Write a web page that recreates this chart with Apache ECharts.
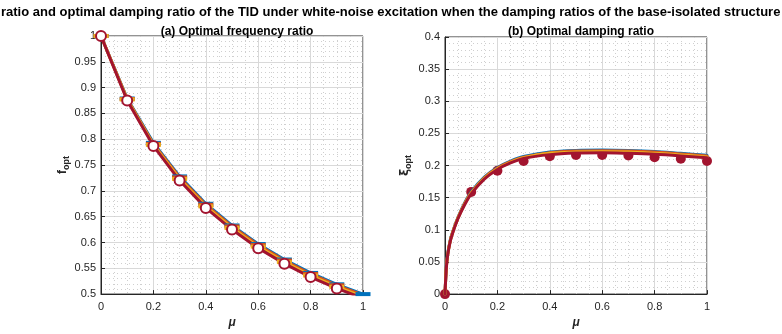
<!DOCTYPE html>
<html>
<head>
<meta charset="utf-8">
<script src="https://cdn.jsdelivr.net/npm/echarts@6/dist/echarts.min.js"></script>
<style>
  html, body { margin: 0; padding: 0; background: #fff; }
</style>
</head>
<body>
<!-- two panels side by side, MATLAB-like look -->
<div id="container" style="width: 782px;height:334px;"></div>
<script>
  // mu values at the markers
  var mu = [0, 0.1, 0.2, 0.3, 0.4, 0.5, 0.6, 0.7, 0.8, 0.9, 1.0];
  // (a) optimal frequency ratio, four damping cases
  var fBlue   = [1, 0.879, 0.793, 0.728, 0.675, 0.633, 0.597, 0.567, 0.541, 0.519, 0.500];
  var fOrange = [1, 0.878, 0.791, 0.726, 0.673, 0.631, 0.595, 0.565, 0.539, 0.517, 0.498];
  var fYellow = [1, 0.877, 0.789, 0.723, 0.670, 0.628, 0.592, 0.562, 0.536, 0.514, 0.495];
  var fRed    = [1, 0.875, 0.787, 0.720, 0.667, 0.625, 0.589, 0.559, 0.533, 0.511, 0.492];

  // (b) optimal damping ratio curves (finer mu grid)
  var muFine   = [0, 0.005, 0.01, 0.02, 0.03, 0.05, 0.075, 0.1, 0.15, 0.2, 0.25, 0.3, 0.4, 0.5, 0.6, 0.7, 0.8, 0.9, 1.0];
  var xiBlue   = [0, 0.042, 0.062, 0.084, 0.098, 0.120, 0.142, 0.159, 0.182, 0.197, 0.207, 0.214, 0.221, 0.2235, 0.224, 0.2235, 0.222, 0.219, 0.216];
  var xiOrange = [0, 0.041, 0.061, 0.083, 0.097, 0.119, 0.141, 0.158, 0.181, 0.196, 0.206, 0.213, 0.220, 0.2225, 0.223, 0.2225, 0.221, 0.218, 0.215];
  var xiYellow = [0, 0.041, 0.060, 0.083, 0.097, 0.119, 0.140, 0.157, 0.180, 0.195, 0.205, 0.212, 0.219, 0.221, 0.2215, 0.221, 0.219, 0.2165, 0.2135];
  var xiRed    = [0, 0.040, 0.060, 0.082, 0.096, 0.118, 0.139, 0.156, 0.179, 0.194, 0.204, 0.211, 0.217, 0.2195, 0.220, 0.219, 0.2175, 0.215, 0.212];
  // red dots (numerical optimum)
  var xiDots   = [0, 0.159, 0.192, 0.207, 0.2146, 0.2166, 0.2166, 0.2156, 0.213, 0.2105, 0.207];

  var colBlue = '#0072BD', colOrange = '#D95319', colYellow = '#EDB120', colRed = '#A2142F';

  function pairs(xs, ys) {
    return xs.map(function (x, i) { return [x, ys[i]]; });
  }
  function fmt(v) {
    return String(parseFloat(v.toFixed(2)));
  }

  var axisCommon = {
    axisLine: {show: true, onZero: false, lineStyle: {color: '#262626', width: 1}},
    axisTick: {show: true, inside: true, length: 4, lineStyle: {color: '#262626'}},
    axisLabel: {color: '#262626', fontSize: 11, fontFamily: 'Liberation Sans', formatter: fmt, margin: 5},
    splitLine: {show: true, lineStyle: {color: '#d9d9d9', width: 1}},
    minorTick: {show: false, splitNumber: 5},
    minorSplitLine: {show: true, lineStyle: {color: '#cfcfcf', type: [1, 3], width: 1}}
  };

  function xAxisDef(gi) {
    return Object.assign({}, axisCommon, {
      type: 'value', gridIndex: gi, min: 0, max: 1, interval: 0.2,
      name: 'μ', nameLocation: 'middle', nameGap: 20,
      nameTextStyle: {fontSize: 12, fontWeight: 'bold', fontStyle: 'italic', color: '#262626', fontFamily: 'Liberation Sans'},
      minorTick: {show: false, splitNumber: 4},
      axisLabel: Object.assign({}, axisCommon.axisLabel, {margin: 7})
    });
  }

  var myChart = echarts.init(document.getElementById('container'));
  myChart.setOption({
    animation: false,
    backgroundColor: '#fff',
    title: [
      {
        text: 'ratio and optimal damping ratio of the TID under white-noise excitation when the damping ratios of the base-isolated structure',
        left: -4, top: 1,
        textStyle: {fontSize: 13, fontWeight: 'bold', color: '#000', fontFamily: 'Liberation Sans'}
      },
      {
        text: '(a) Optimal frequency ratio', left: 232, top: 21, textAlign: 'center',
        textStyle: {fontSize: 12, fontWeight: 'bold', color: '#000', fontFamily: 'Liberation Sans'}
      },
      {
        text: '(b) Optimal damping ratio', left: 576, top: 21, textAlign: 'center',
        textStyle: {fontSize: 12, fontWeight: 'bold', color: '#000', fontFamily: 'Liberation Sans'}
      }
    ],
    grid: [
      {left: 101, top: 36, width: 262, height: 262, show: true, borderColor: '#262626', borderWidth: 1, backgroundColor: '#fff'},
      {left: 445, top: 37, width: 262, height: 261, show: true, borderColor: '#262626', borderWidth: 1, backgroundColor: '#fff'}
    ],
    xAxis: [xAxisDef(0), xAxisDef(1)],
    yAxis: [
      Object.assign({}, axisCommon, {
        type: 'value', gridIndex: 0, min: 0.5, max: 1, interval: 0.05,
        name: '{m|f}{s|opt}', nameLocation: 'middle', nameGap: 30,
        nameTextStyle: {rich: {
          m: {fontSize: 12, fontWeight: 'bold', color: '#262626', fontFamily: 'Liberation Sans'},
          s: {fontSize: 9, fontWeight: 'bold', color: '#262626', fontFamily: 'Liberation Sans', padding: [7, 0, 0, 0]}
        }}
      }),
      Object.assign({}, axisCommon, {
        type: 'value', gridIndex: 1, min: 0, max: 0.4, interval: 0.05,
        name: '{m|ξ}{s|opt}', nameLocation: 'middle', nameGap: 32,
        nameTextStyle: {rich: {
          m: {fontSize: 12, fontWeight: 'bold', color: '#262626', fontFamily: 'DejaVu Sans'},
          s: {fontSize: 9, fontWeight: 'bold', color: '#262626', fontFamily: 'Liberation Sans', padding: [7, 0, 0, 0]}
        }}
      })
    ],
    series: [
      // panel (a)
      {type: 'line', xAxisIndex: 0, yAxisIndex: 0, data: pairs(mu, fBlue), lineStyle: {color: colBlue, width: 3},
        itemStyle: {color: colBlue}, symbol: 'rect', symbolSize: [15, 4]},
      {type: 'line', xAxisIndex: 0, yAxisIndex: 0, data: pairs(mu, fOrange), lineStyle: {color: colOrange, width: 3},
        itemStyle: {color: colOrange}, symbol: 'rect', symbolSize: [15, 4]},
      {type: 'line', xAxisIndex: 0, yAxisIndex: 0, data: pairs(mu, fYellow), lineStyle: {color: colYellow, width: 3},
        itemStyle: {color: colYellow}, symbol: 'rect', symbolSize: [15, 4]},
      {type: 'line', xAxisIndex: 0, yAxisIndex: 0, data: pairs(mu, fRed), lineStyle: {color: colRed, width: 3},
        itemStyle: {color: '#fff', borderColor: colRed, borderWidth: 2}, symbol: 'circle', symbolSize: 10},
      // panel (b)
      {type: 'line', xAxisIndex: 1, yAxisIndex: 1, data: pairs(muFine, xiBlue), smooth: 0.3, showSymbol: false,
        lineStyle: {color: colBlue, width: 3, cap: 'round'}},
      {type: 'line', xAxisIndex: 1, yAxisIndex: 1, data: pairs(muFine, xiOrange), smooth: 0.3, showSymbol: false,
        lineStyle: {color: colOrange, width: 3, cap: 'round'}},
      {type: 'line', xAxisIndex: 1, yAxisIndex: 1, data: pairs(muFine, xiYellow), smooth: 0.3, showSymbol: false,
        lineStyle: {color: colYellow, width: 3, cap: 'round'}},
      {type: 'line', xAxisIndex: 1, yAxisIndex: 1, data: pairs(muFine, xiRed), smooth: 0.3, showSymbol: false,
        lineStyle: {color: colRed, width: 3, cap: 'round'}},
      {type: 'scatter', xAxisIndex: 1, yAxisIndex: 1, data: pairs(mu, xiDots), symbolSize: 10,
        itemStyle: {color: colRed, opacity: 1}, clip: false}
    ]
  });
</script>
</body>
</html>
